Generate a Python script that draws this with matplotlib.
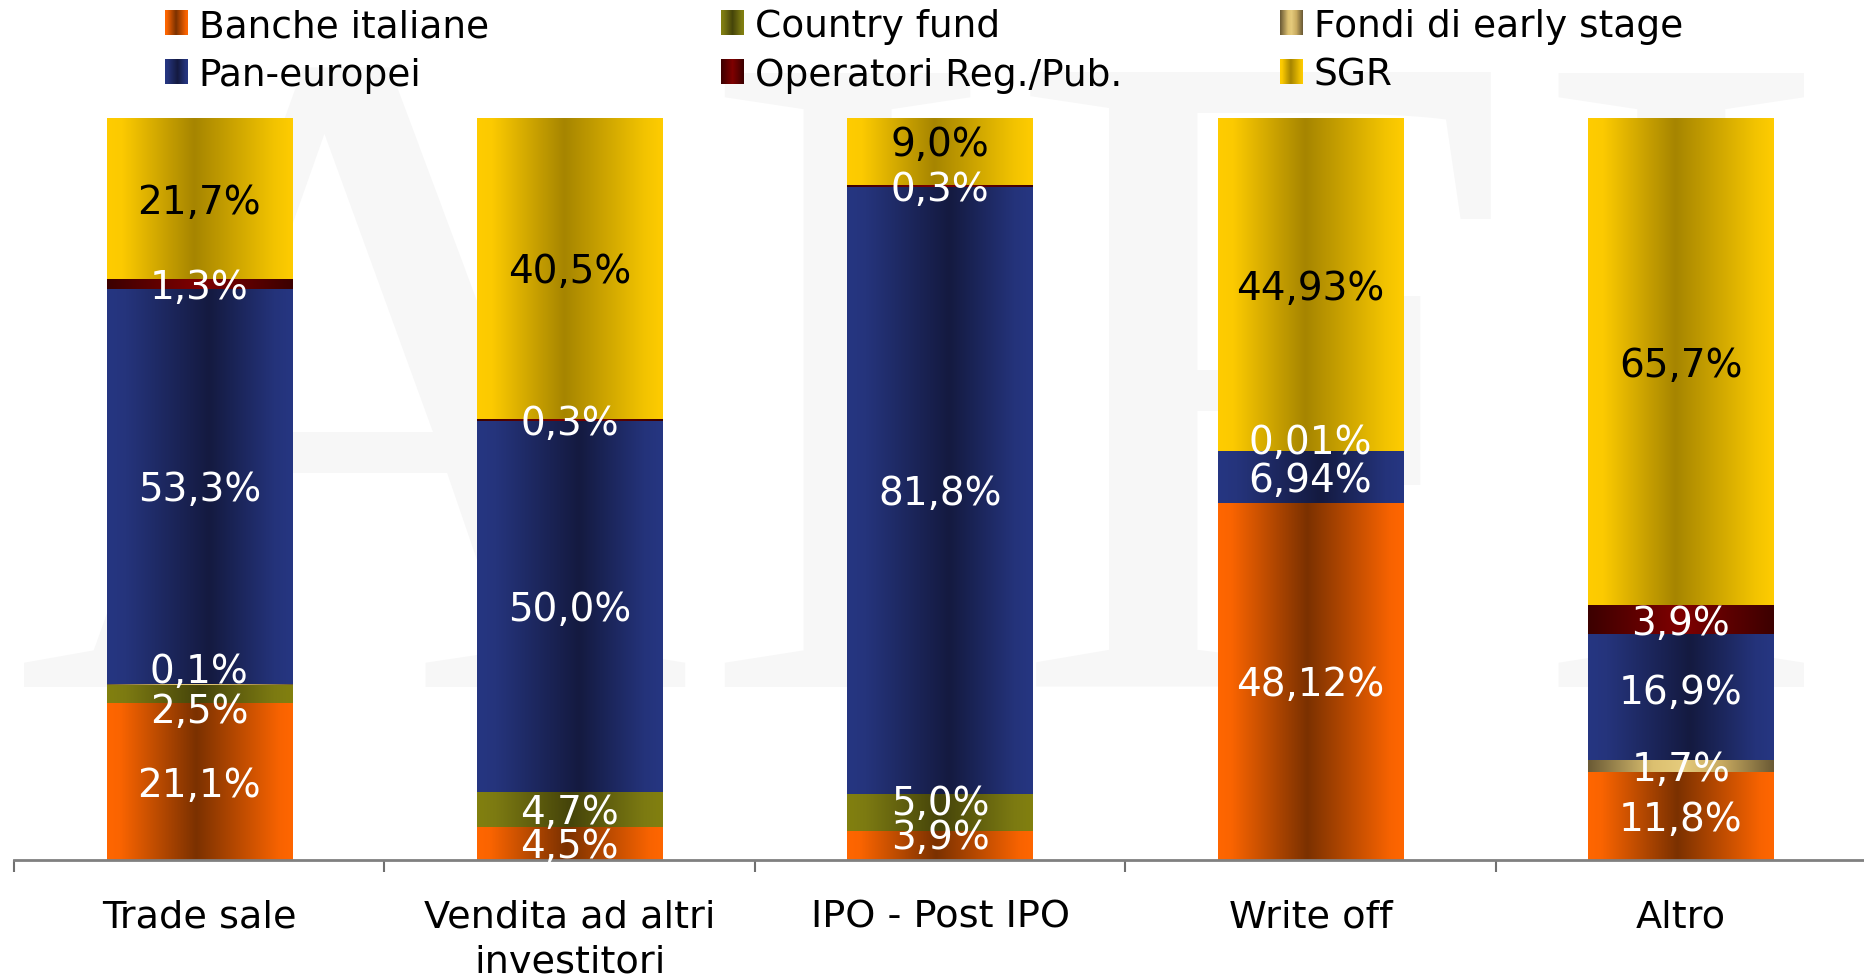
import numpy as np
import matplotlib
matplotlib.use("Agg")
import matplotlib.pyplot as plt
import matplotlib.patches as mpatches
from matplotlib.colors import LinearSegmentedColormap
from matplotlib.legend_handler import HandlerBase
from matplotlib.image import BboxImage
from matplotlib.transforms import Bbox, TransformedBbox

# ---- data -------------------------------------------------------------
categories = ["Trade sale", "Vendita ad altri\ninvestitori", "IPO - Post IPO",
              "Write off", "Altro"]
banche_italiane = [21.1, 4.5, 3.9, 48.12, 11.8]
country_fund = [2.5, 4.7, 5.0, 0.0, 0.0]
fondi_early_stage = [0.1, 0.0, 0.0, 0.0, 1.7]
pan_europei = [53.3, 50.0, 81.8, 6.94, 16.9]
operatori_reg_pub = [1.3, 0.3, 0.3, 0.01, 3.9]
sgr = [21.7, 40.5, 9.0, 44.93, 65.7]
label_decimals = [1, 1, 1, 2, 1]

series_names = ["Banche italiane", "Country fund", "Fondi di early stage",
                "Pan-europei", "Operatori Reg./Pub.", "SGR"]
series_values = [banche_italiane, country_fund, fondi_early_stage,
                 pan_europei, operatori_reg_pub, sgr]

# ---- styling ----------------------------------------------------------
gradient_stops = {
    "Banche italiane": [(0, "#FF6600"), (0.07, "#FA6400"), (0.48, "#7B3100"),
                        (0.93, "#F86300"), (1, "#FF6600")],
    "Country fund": [(0, "#82800F"), (0.1, "#7C7A12"), (0.5, "#45440A"),
                     (0.9, "#7C7A12"), (1, "#82800F")],
    "Fondi di early stage": [(0, "#6A5A35"), (0.35, "#DCC070"), (0.5, "#E5CB7C"),
                             (0.72, "#C8AA60"), (1, "#6A5A35")],
    "Pan-europei": [(0, "#263682"), (0.1, "#25347C"), (0.55, "#141A40"),
                    (0.9, "#24337A"), (1, "#263682")],
    "Operatori Reg./Pub.": [(0, "#3C0000"), (0.5, "#800000"), (1, "#3C0000")],
    "SGR": [(0, "#FFCC00"), (0.08, "#FCCA00"), (0.47, "#A68500"),
            (0.9, "#F2C300"), (1, "#FFCC00")],
}
cmaps = {name: LinearSegmentedColormap.from_list(name, stops)
         for name, stops in gradient_stops.items()}
text_colors = {name: "white" for name in series_names}
text_colors["SGR"] = "black"

# small vertical shifts (pixels) for labels of thin, crowded segments
label_nudge_px = {
    (0, "Fondi di early stage"): 17, (0, "Country fund"): -14,
    (2, "Banche italiane"): 12, (2, "Country fund"): 13, (2, "SGR"): 10,
    (3, "Operatori Reg./Pub."): 12, (4, "Pan-europei"): 8,
}
label_base_shift_px = -3

W, H, DPI = 1864, 979, 100
fig = plt.figure(figsize=(W / DPI, H / DPI), dpi=DPI, facecolor="white")

# faint logo watermark behind the plot
fig.text(15 / W, 1 - 687 / H, "AIFI", fontsize=675, family="Liberation Serif",
         color="#F7F7F7", va="baseline", ha="left", zorder=-1)

ax = fig.add_axes([14 / W, 1 - 861 / H, 1852 / W, (861 - 119) / H])
ax.set_facecolor("none")

x = np.arange(len(categories))
grad = np.tile(np.linspace(0, 1, 256), (2, 1))
bottoms = np.zeros(len(categories))
for name, vals in zip(series_names, series_values):
    vals = np.asarray(vals, dtype=float)
    bars = ax.bar(x, vals, bottom=bottoms, width=0.5, color="none", linewidth=0)
    for i, rect in enumerate(bars):
        h = rect.get_height()
        if h <= 0:
            continue
        x0, y0, w = rect.get_x(), rect.get_y(), rect.get_width()
        ax.imshow(grad, cmap=cmaps[name], extent=(x0, x0 + w, y0, y0 + h),
                  aspect="auto", interpolation="bilinear", zorder=1)
        txt = f"{vals[i]:.{label_decimals[i]}f}".replace(".", ",") + "%"
        dy = label_nudge_px.get((i, name), 0) + label_base_shift_px
        ax.annotate(txt, (x0 + w / 2, y0 + h / 2),
                    xytext=(0, dy * 0.72),
                    textcoords="offset points", ha="center", va="center",
                    fontsize=28, color=text_colors[name], zorder=5,
                    family="DejaVu Sans")
    bottoms += vals

ax.set_xlim(-0.5, len(categories) - 0.5)
ax.set_ylim(0, 100)
ax.yaxis.set_visible(False)
for side in ("left", "top", "right"):
    ax.spines[side].set_visible(False)
ax.spines["bottom"].set_color("#808080")
ax.spines["bottom"].set_linewidth(2)

ax.set_xticks(np.arange(-0.5, len(categories), 1.0))
ax.set_xticks(x, minor=True)
ax.set_xticklabels(categories, minor=True, linespacing=1.3)
ax.tick_params(axis="x", which="major", direction="out", length=8.6, width=1.5,
               color="#707070", labelbottom=False)
ax.tick_params(axis="x", which="minor", length=0, pad=28, labelsize=27.5,
               labelcolor="black")


class GradientHandler(HandlerBase):
    def __init__(self, cmap):
        super().__init__()
        self.cmap = cmap

    def create_artists(self, legend, orig_handle, xdescent, ydescent,
                       width, height, fontsize, trans):
        bb = Bbox.from_bounds(-xdescent, -ydescent, width, height)
        img = BboxImage(TransformedBbox(bb, trans), cmap=self.cmap,
                        interpolation="bilinear")
        img.set_data(np.tile(np.linspace(0, 1, 64), (2, 1)))
        return [img]


legend_columns = [("Banche italiane", "Pan-europei"),
                  ("Country fund", "Operatori Reg./Pub."),
                  ("Fondi di early stage", "SGR")]
column_left_px = [165, 721, 1280]
for col, left in zip(legend_columns, column_left_px):
    handles = [mpatches.Patch(label=n) for n in col]
    hmap = {h: GradientHandler(cmaps[n]) for h, n in zip(handles, col)}
    fig.legend(handles=handles, labels=list(col), loc="upper left",
               bbox_to_anchor=(left / W, 1 - 9 / H), frameon=False,
               borderpad=0, borderaxespad=0, handlelength=0.6,
               handleheight=0.62, handletextpad=0.3, labelspacing=0.34,
               prop={"family": "DejaVu Sans", "size": 27}, handler_map=hmap)

fig.savefig("out.png", dpi=DPI, facecolor="white")
